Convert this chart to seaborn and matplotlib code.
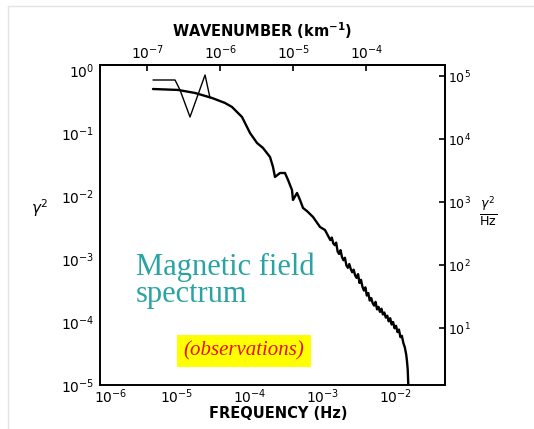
import numpy as np
import pandas as pd
import matplotlib
matplotlib.use("Agg")
import matplotlib.pyplot as plt
import matplotlib.transforms as mtransforms
import seaborn as sns
from matplotlib.ticker import FixedLocator, NullLocator, FuncFormatter
from matplotlib.lines import Line2D

# ---- data (log10 values) ----
main_logf = [-5.329, -4.986, -4.753, -4.521, -4.342, -4.247, -4.110, -4.000, -3.904, -3.822,
             -3.726, -3.685, -3.658, -3.589, -3.521, -3.479, -3.425, -3.411, -3.356, -3.315,
             -3.274, -3.219, -3.137, -3.041, -2.973,
             -2.90, -2.88, -2.86, -2.84, -2.82, -2.80, -2.78, -2.76, -2.74, -2.72,
             -2.70, -2.68, -2.66, -2.64, -2.62, -2.60, -2.58, -2.56, -2.54, -2.52,
             -2.50, -2.48, -2.46, -2.44, -2.42, -2.40, -2.38, -2.36, -2.34, -2.32,
             -2.30, -2.28, -2.26, -2.24, -2.22, -2.20, -2.18, -2.16, -2.14, -2.12,
             -2.10, -2.08, -2.06, -2.04, -2.02, -2.00, -1.98, -1.96, -1.94, -1.92,
             -1.90, -1.88, -1.86, -1.85, -1.84, -1.835, -1.83]
main_logp = [-0.302, -0.317, -0.365, -0.444, -0.524, -0.587, -0.746, -1.000, -1.159, -1.238,
             -1.381, -1.540, -1.698, -1.635, -1.635, -1.746, -1.905, -2.063, -1.952, -2.063,
             -2.190, -2.240, -2.333, -2.492, -2.540,
             -2.70, -2.66, -2.75, -2.78, -2.74, -2.88, -2.92, -2.86, -2.97, -3.02,
             -2.98, -3.10, -3.14, -3.08, -3.16, -3.21, -3.17, -3.26, -3.30, -3.24,
             -3.38, -3.33, -3.44, -3.50, -3.45, -3.58, -3.54, -3.66, -3.62, -3.70,
             -3.74, -3.68, -3.80, -3.76, -3.84, -3.79, -3.88, -3.85, -3.93, -3.90,
             -3.99, -3.94, -4.04, -4.00, -4.10, -4.06, -4.16, -4.12, -4.24, -4.22,
             -4.33, -4.40, -4.52, -4.62, -4.75, -4.90, -5.05]

upper_logf = [-5.329, -5.027, -4.959, -4.822, -4.616, -4.548]
upper_logp = [-0.159, -0.159, -0.317, -0.746, -0.079, -0.444]

x_ticks = [1e-6, 1e-5, 1e-4, 1e-3, 1e-2]
y_ticks = [1e-5, 1e-4, 1e-3, 1e-2, 1e-1, 1e0]
k_ticks = [1e-7, 1e-6, 1e-5, 1e-4]
spec_ticks = [1e1, 1e2, 1e3, 1e4, 1e5]

K_OFFSET = 10 ** 1.595   # frequency / wavenumber
S_FACTOR = 10 ** 5.1      # right-axis scale factor

main_df = pd.DataFrame({"f": 10 ** np.array(main_logf), "p": 10 ** np.array(main_logp)})
upper_df = pd.DataFrame({"f": 10 ** np.array(upper_logf), "p": 10 ** np.array(upper_logp)})

sns.set_style("white")
plt.rcParams["font.family"] = ["DejaVu Sans"]
plt.rcParams["text.color"] = "black"
plt.rcParams["xtick.color"] = "black"
plt.rcParams["ytick.color"] = "black"
plt.rcParams["axes.labelcolor"] = "black"

fig = plt.figure(figsize=(5.34, 4.29), dpi=100)
# faint slide frame (top and left edges)
fig.lines.append(Line2D([8 / 534, 1], [1 - 6 / 429, 1 - 6 / 429], transform=fig.transFigure,
                        color="#e4e4e4", linewidth=1.0))
fig.lines.append(Line2D([8 / 534, 8 / 534], [0, 1 - 6 / 429], transform=fig.transFigure,
                        color="#e4e4e4", linewidth=1.0))

ax = fig.add_axes([100 / 534, 1 - 385 / 429, 345 / 534, 320 / 429])
ax.set_xscale("log")
ax.set_yscale("log")

sns.lineplot(data=main_df, x="f", y="p", ax=ax, sort=False, estimator=None,
             color="black", linewidth=1.7)
sns.lineplot(data=upper_df, x="f", y="p", ax=ax, sort=False, estimator=None,
             color="black", linewidth=1.0)

ax.set_xlim(10 ** -6.055, 10 ** -1.329)
ax.set_ylim(1e-5, 10 ** 0.079)
ax.set_xlabel("")
ax.set_ylabel("")


def pow_fmt(v, pos):
    e = int(round(np.log10(v)))
    return r"$10^{%d}$" % e


ax.xaxis.set_major_locator(FixedLocator(x_ticks))
ax.yaxis.set_major_locator(FixedLocator(y_ticks))
ax.xaxis.set_minor_locator(NullLocator())
ax.yaxis.set_minor_locator(NullLocator())
ax.xaxis.set_major_formatter(FuncFormatter(pow_fmt))
ax.yaxis.set_major_formatter(FuncFormatter(pow_fmt))
ax.tick_params(axis="both", direction="in", length=4, width=1.2, labelsize=10,
               colors="black")
ax.tick_params(axis="y", pad=4)
ax.tick_params(axis="x", pad=2)

# nudge the first frequency label right, as in the original figure
fig.canvas.draw()
first_lbl = ax.get_xticklabels()[0]
first_lbl.set_transform(first_lbl.get_transform() +
                        mtransforms.ScaledTranslation(7 / 100, 0, fig.dpi_scale_trans))

for s in ax.spines.values():
    s.set_color("black")
    s.set_linewidth(1.4)

top = ax.secondary_xaxis("top", functions=(lambda f: f / K_OFFSET, lambda k: k * K_OFFSET))
top.xaxis.set_major_locator(FixedLocator(k_ticks))
top.xaxis.set_minor_locator(NullLocator())
top.xaxis.set_major_formatter(FuncFormatter(pow_fmt))
top.tick_params(direction="in", length=4, width=1.2, labelsize=10, pad=2, colors="black")
top.spines["top"].set_linewidth(1.4)

right = ax.secondary_yaxis("right", functions=(lambda p: p * S_FACTOR, lambda s: s / S_FACTOR))
right.yaxis.set_major_locator(FixedLocator(spec_ticks))
right.yaxis.set_minor_locator(NullLocator())
right.yaxis.set_major_formatter(FuncFormatter(pow_fmt))
right.tick_params(direction="in", length=4, width=1.2, labelsize=9, pad=2, colors="black")
right.spines["right"].set_linewidth(1.4)

# axis titles
fig.text(262 / 534, 1 - 31 / 429, r"WAVENUMBER (km$^{\mathbf{-1}}$)", ha="center", va="center",
         fontsize=10.5, fontweight="bold")
fig.text(278 / 534, 1 - 414 / 429, "FREQUENCY (Hz)", ha="center", va="center",
         fontsize=10.5, fontweight="bold")
fig.text(40 / 534, 1 - 208 / 429, r"$\gamma^2$", ha="center", va="center", fontsize=11)
fig.text(488 / 534, 1 - 212 / 429, r"$\frac{\gamma^2}{\mathrm{Hz}}$", ha="center", va="center",
         fontsize=13)

# annotations
fig.text(136 / 534, 1 - 281 / 429, "Magnetic field\nspectrum", ha="left", va="center",
         fontsize=22, color="#2aa3a3", family="Liberation Serif", linespacing=0.9)
fig.text(244 / 534, 1 - 351 / 429, "(observations)", ha="center", va="center",
         fontsize=15, color="#e8101a", family="Liberation Serif", style="italic",
         bbox=dict(boxstyle="square,pad=0.3", facecolor="#ffff00", edgecolor="none"))

fig.savefig("out.png", dpi=100, facecolor="white")
